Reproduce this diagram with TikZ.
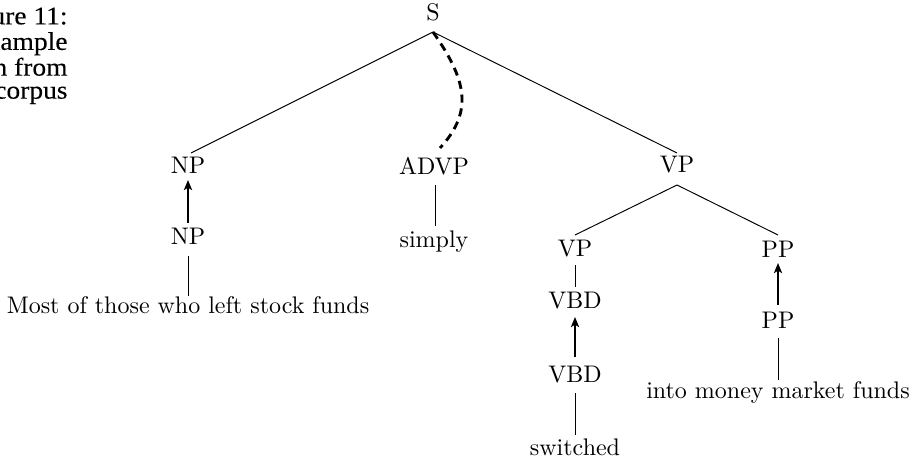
\documentclass[tikz,border=0pt]{standalone}
\usepackage{fontspec}
\newfontfamily\captionfont[FakeStretch=1.08,FakeBold=0.15]{Liberation Serif}
\usetikzlibrary{calc,arrows.meta}
\tikzset{
  cat/.style={inner sep=0pt, anchor=base, font=\fontsize{10}{12}\selectfont},
  branch/.style={line width=0.4pt},
  unary/.style={line width=0.4pt},
  move/.style={line width=0.8pt, -{Stealth[length=4.2pt,width=3.4pt,inset=1pt]}},
  moved/.style={line width=1.2pt, dashed, dash pattern=on 3.4pt off 2.4pt},
  caption/.style={inner sep=0pt, anchor=north east, align=right,
    font=\captionfont\fontsize{10.6}{9.6}\selectfont}
}
\begin{document}
\begin{tikzpicture}[x=0.4167pt, y=-0.4167pt]
\useasboundingbox (0,0) rectangle (914,463);
\begin{scope}
\clip (0,0) rectangle (914,463);
\node[caption] (cap) at (68,7) {Figure 11:\\An example\\taken from\\the corpus};
\end{scope}

% nodes
\node[cat] (S)    at (433,21)  {S};
\node[cat] (NPa)  at (188,174) {NP};
\node[cat] (NPb)  at (188,244) {NP};
\node[cat] (most) at (188,313) {Most of those who left stock funds};
\node[cat] (ADVP) at (434,175) {ADVP};
\node[cat] (simp) at (434,248) {simply};
\node[cat] (VPa)  at (677,173) {VP};
\node[cat] (VPb)  at (575,256) {VP};
\node[cat] (PPa)  at (778,257) {PP};
\node[cat] (VBDa) at (575,308) {VBD};
\node[cat] (VBDb) at (575,382) {VBD};
\node[cat] (sw)   at (575,455) {switched};
\node[cat] (PPb)  at (778,328) {PP};
\node[cat] (into) at (778,398) {into money market funds};

% branches from S
\draw[branch] ($(S.base)+(0,11)$) -- ($(NPa.base)+(3,-21)$);
\draw[branch] ($(S.base)+(0,11)$) -- ($(VPa.base)+(0,-20)$);
\draw[moved] ($(S.base)+(0,11)$) .. controls (465,78) and (475,110) .. ($(ADVP.base)+(6,-27)$);

% NP
\draw[move] ($(NPb.base)+(0,-21)$) -- ($(NPa.base)+(0,6)$);
\draw[unary] ($(NPb.base)+(0,12)$) -- ($(most.base)+(0,-17)$);

% ADVP
\draw[unary] ($(ADVP.base)+(1,10)$) -- ($(simp.base)+(1,-22)$);

% VP
\draw[branch] ($(VPa.base)+(0,12)$) -- ($(VPb.base)+(0,-21)$);
\draw[branch] ($(VPa.base)+(0,12)$) -- ($(PPa.base)+(0,-22)$);
\draw[unary] ($(VPb.base)+(0,9)$) -- ($(VBDa.base)+(0,-21)$);
\draw[move] ($(VBDb.base)+(0,-25)$) -- ($(VBDa.base)+(0,9)$);
\draw[unary] ($(VBDb.base)+(0,11)$) -- ($(sw.base)+(0,-20)$);

% PP
\draw[move] ($(PPb.base)+(0,-23)$) -- ($(PPa.base)+(0,6)$);
\draw[unary] ($(PPb.base)+(0,10)$) -- ($(into.base)+(0,-18)$);
\end{tikzpicture}
\end{document}
